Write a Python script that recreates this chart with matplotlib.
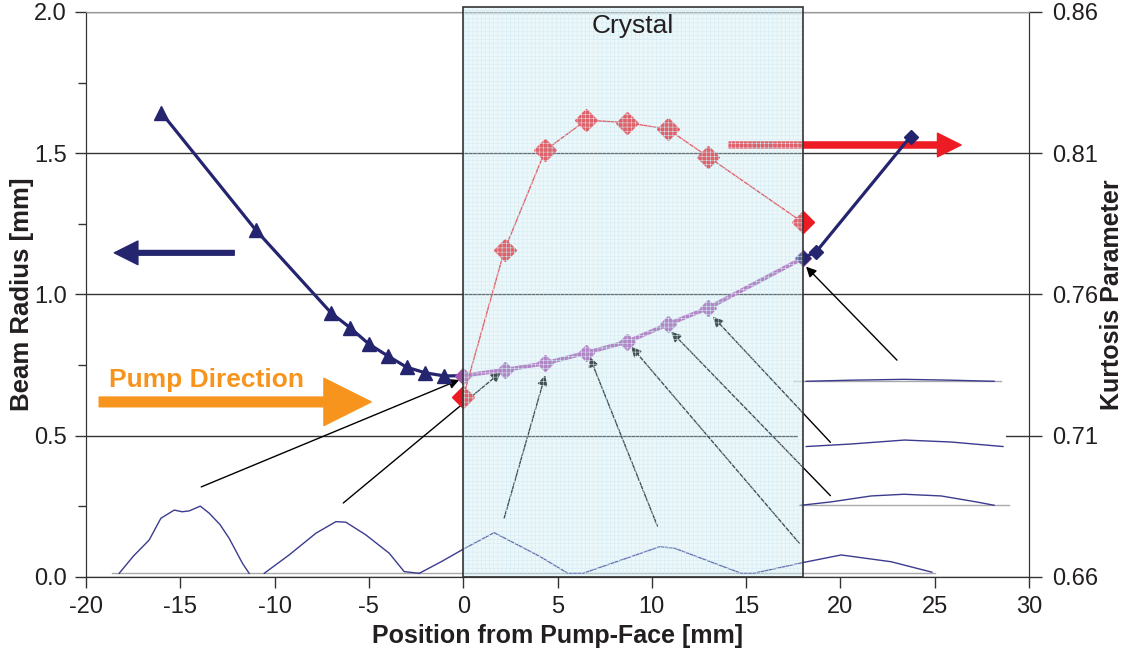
import matplotlib.pyplot as plt
from matplotlib import transforms
from matplotlib.patches import Rectangle
from matplotlib.ticker import MultipleLocator, FixedLocator, FormatStrFormatter

plt.rcParams['font.family'] = ['Liberation Sans', 'DejaVu Sans']
plt.rcParams['axes.unicode_minus'] = False
plt.rcParams['hatch.linewidth'] = 0.35

# beam radius before the crystal (mm)
beam_x = [-16, -11, -7, -6, -5, -4, -3, -2, -1, 0]
beam_r = [1.643, 1.228, 0.934, 0.882, 0.824, 0.782, 0.742, 0.722, 0.711, 0.712]

# beam radius inside the crystal
cryst_x = [0, 2.19, 4.36, 6.52, 8.70, 10.85, 12.97, 18.0]
cryst_r = [0.712, 0.732, 0.756, 0.793, 0.832, 0.894, 0.951, 1.128]

# beam radius after the crystal
after_x = [18.0, 18.72, 23.72]
after_r = [1.128, 1.151, 1.559]

# kurtosis parameter (right axis)
kurt_x = [0, 2.19, 4.36, 6.52, 8.70, 10.85, 12.97, 18.0]
kurt_k = [0.7237, 0.7757, 0.8111, 0.8217, 0.8208, 0.8185, 0.8088, 0.7855]
kurt_ticks = [0.66, 0.71, 0.76, 0.81, 0.86]

# beam profile traces along the bottom
prof1_x = [-18.24, -17.5, -16.65, -16.03, -15.32, -14.9, -14.53, -13.94, -13.47, -12.9, -12.41, -11.70, -11.35]
prof1_y = [0.012, 0.072, 0.130, 0.207, 0.236, 0.230, 0.233, 0.250, 0.225, 0.185, 0.136, 0.047, 0.012]
prof2_x = [-10.55, -9.23, -7.81, -6.75, -6.22, -5.16, -3.92, -3.13, -2.33]
prof2_y = [0.012, 0.077, 0.154, 0.195, 0.193, 0.148, 0.083, 0.018, 0.012]
prof3_x = [-2.33, -1.17, 0.07, 1.64, 4.03, 5.55, 6.35, 10.41, 11.2, 14.74, 15.4, 18.01, 20.04, 22.69, 24.85]
prof3_y = [0.012, 0.053, 0.100, 0.156, 0.073, 0.012, 0.012, 0.106, 0.101, 0.012, 0.012, 0.050, 0.077, 0.053, 0.016]

# beam profile traces on the right
prof_top_x = [18.19, 20.57, 23.38, 25.87, 28.15]
prof_top_y = [0.692, 0.696, 0.699, 0.696, 0.692]
prof_mid_x = [18.19, 20.57, 23.40, 25.87, 28.62]
prof_mid_y = [0.461, 0.470, 0.484, 0.477, 0.461]
prof_bot_x = [17.92, 19.51, 21.63, 23.38, 25.34, 27.2, 28.15]
prof_bot_y = [0.253, 0.265, 0.286, 0.292, 0.286, 0.265, 0.253]

# pointer arrows: profile -> measurement point
ptr_tail = [(-13.89, 0.318), (-6.36, 0.261), (2.17, 0.207), (10.3, 0.179),
            (17.83, 0.118), (19.47, 0.287), (19.47, 0.476), (23.0, 0.767)]
ptr_head = [(-0.21, 0.697), (2.01, 0.725), (4.35, 0.714), (6.70, 0.779),
            (8.91, 0.815), (11.03, 0.868), (13.24, 0.921), (18.18, 1.098)]

navy = '#25256f'
dark = '#231f20'

fig = plt.figure(figsize=(11.29, 6.62), dpi=100)
ax = fig.add_axes([86 / 1129, 85.3 / 662, 943 / 1129, 564.7 / 662])
ax2 = ax.twinx()

ax.set_xlim(-20, 30)
ax.set_ylim(0, 2.0)
ax2.set_ylim(0.66, 0.86)

ax.set_axisbelow(True)
ax.yaxis.grid(True, color='#333333', lw=1)

# white backgrounds of the pasted profile pictures
ax.add_patch(Rectangle((17.75, 0.44), 11.05, 0.09, fc='white', ec='none', zorder=1))

ax.plot([-18.6, 25.0], [0.012, 0.012], color='#aaaaaa', lw=1, zorder=1.5)
ax.plot([17.55, 28.53], [0.694, 0.694], color='#aaaaaa', lw=1, zorder=1.5)
ax.plot([17.82, 28.95], [0.253, 0.253], color='#aaaaaa', lw=1, zorder=1.5)
for px, py in [(prof1_x, prof1_y), (prof2_x, prof2_y), (prof3_x, prof3_y),
               (prof_top_x, prof_top_y), (prof_mid_x, prof_mid_y), (prof_bot_x, prof_bot_y)]:
    ax.plot(px, py, color='#3b3b90', lw=1, zorder=2)

for t, h in zip(ptr_tail, ptr_head):
    ax.annotate('', xy=h, xytext=t,
                arrowprops=dict(arrowstyle='-|>', color='black', lw=1,
                                mutation_scale=15, shrinkA=0, shrinkB=0), zorder=3)

ax.plot(beam_x, beam_r, color=navy, lw=2.3, marker='^', ms=10,
        markevery=slice(0, -1), zorder=4)
ax.plot(cryst_x, cryst_r, color='#a855b0', lw=3, marker='D', ms=8, zorder=4)
ax.plot(after_x, after_r, color=navy, lw=2.3, marker='D', ms=7, zorder=4)

# direction arrows
ax.annotate('', xy=(-18.5, 1.147), xytext=(-12.14, 1.147),
            arrowprops=dict(arrowstyle='simple,head_length=0.85,head_width=0.85,tail_width=0.17',
                            color=navy, mutation_scale=20, shrinkA=0, shrinkB=0), zorder=3)
ax.annotate('', xy=(26.4, 1.529), xytext=(14.1, 1.529),
            arrowprops=dict(arrowstyle='simple,head_length=0.85,head_width=0.85,tail_width=0.22',
                            color='#ed1c24', mutation_scale=20, shrinkA=0, shrinkB=0), zorder=3)
ax.annotate('', xy=(-4.88, 0.619), xytext=(-19.3, 0.619),
            arrowprops=dict(arrowstyle='simple,head_length=1.7,head_width=1.7,tail_width=0.35',
                            color='#f7941d', mutation_scale=20, shrinkA=0, shrinkB=0), zorder=3)
ax.text(-18.8, 0.695, 'Pump Direction', color='#f7941d', fontsize=19,
        fontweight='bold', ha='left', va='center', zorder=3)

ax2.plot(kurt_x, kurt_k, color='#ed1c24', lw=1, marker='D', ms=11, zorder=2)

# crystal overlay
blend = transforms.blended_transform_factory(ax2.transData, ax2.transAxes)
ax2.add_patch(Rectangle((0, 0), 18.0, 1.009, transform=blend, clip_on=False,
                        fc='#c8e9f3', ec='none', alpha=0.34, zorder=5))
ax2.add_patch(Rectangle((0, 0), 18.0, 1.009, transform=blend, clip_on=False,
                        fc='none', ec='#d2ebf2', lw=0, hatch='++++', zorder=5.1))
ax2.add_patch(Rectangle((0, 0), 18.0, 1.009, transform=blend, clip_on=False,
                        fc='none', ec='#333333', lw=1.2, zorder=5.2))
ax2.text(9.0, 0.997, 'Crystal', transform=blend, ha='center', va='top',
         fontsize=19, color=dark, zorder=6)

# axes styling
ax.spines['top'].set_color('#999999')
ax2.spines['top'].set_color('#999999')
for a in (ax, ax2):
    for sp in ['left', 'right', 'bottom']:
        a.spines[sp].set_color('#333333')

ax.xaxis.set_major_locator(MultipleLocator(5))
ax.yaxis.set_major_locator(MultipleLocator(0.5))
ax.yaxis.set_minor_locator(MultipleLocator(0.25))
ax.yaxis.set_major_formatter(FormatStrFormatter('%.1f'))
ax2.yaxis.set_major_locator(FixedLocator(kurt_ticks))
ax2.yaxis.set_major_formatter(FormatStrFormatter('%.2f'))

ax.tick_params(axis='both', which='major', labelsize=17, length=8, width=1,
               color='#333333', labelcolor=dark, pad=6)
ax.tick_params(axis='y', which='minor', length=6, width=1, color='#333333')
ax2.tick_params(axis='y', labelsize=17, length=9, width=1, color='#333333',
                labelcolor=dark, pad=8)

ax.set_xlabel('Position from Pump-Face [mm]', fontsize=18, fontweight='bold',
              color=dark, labelpad=4)
ax.set_ylabel('Beam Radius [mm]', fontsize=18.5, fontweight='bold', color=dark, labelpad=0)
ax2.set_ylabel('Kurtosis Parameter', fontsize=18, fontweight='bold', color=dark, labelpad=1)

fig.savefig('out.png', dpi=100)
